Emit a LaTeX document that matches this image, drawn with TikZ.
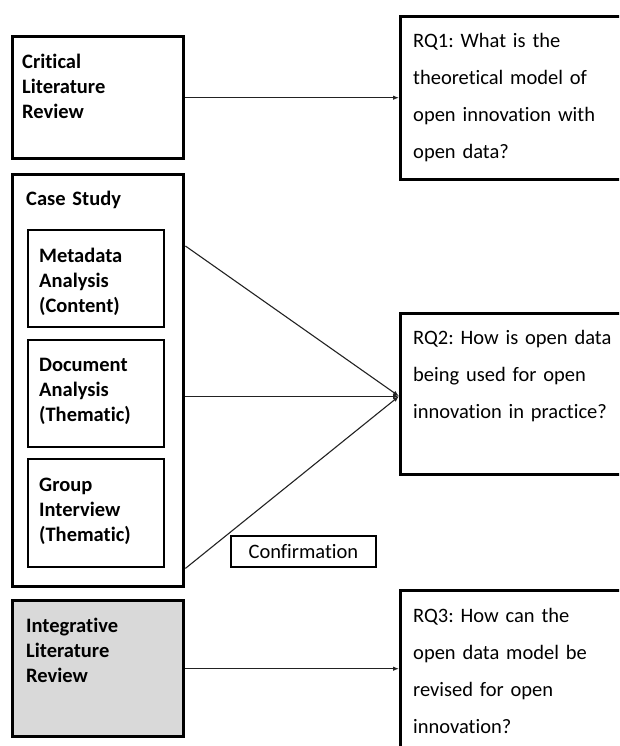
\documentclass[tikz,border=0pt]{standalone}
\usepackage{fontspec}
\setmainfont{Carlito}[RawFeature={-liga;-clig;-calt;-dlig}]
\frenchspacing
\usetikzlibrary{arrows.meta}
\definecolor{boxgray}{HTML}{D9D9D9}
\definecolor{linegray}{HTML}{222222}
\tikzset{
  method/.style={draw=black, line width=3.4pt},
  submethod/.style={draw=black, line width=2.4pt},
  tag/.style={draw=black, line width=1.8pt},
  question/.style={draw=black, line width=3.4pt},
  boldtext/.style={anchor=base west, inner sep=0pt, text width=150pt, align=left,
    font=\fontsize{20.5}{25}\selectfont\bfseries},
  qtext/.style={anchor=base west, inner sep=0pt, text width=220pt, align=left,
    font=\fontsize{20.5}{37}\selectfont},
  link/.style={draw=linegray, line width=1.1pt, -{Latex[length=6pt,width=4.5pt]}}
}
\begin{document}
\begin{tikzpicture}[x=1pt, y=-1pt]
\useasboundingbox (0,0) rectangle (619,746);
\clip (0,0) rectangle (619,746);

% method boxes on the left
\node[method, inner sep=0pt, minimum width=171pt, minimum height=122pt, anchor=north west] (crit) at (11,35) {};
\node[method, inner sep=0pt, minimum width=171pt, minimum height=412pt, anchor=north west] (case) at (11,173) {};
\node[method, fill=boxgray, inner sep=0pt, minimum width=171pt, minimum height=136pt, anchor=north west] (integ) at (11,599) {};

% sub-methods of the case study
\node[submethod, inner sep=0pt, minimum width=136pt, minimum height=97pt, anchor=north west] (meta) at (27,229) {};
\node[submethod, inner sep=0pt, minimum width=136pt, minimum height=107pt, anchor=north west] (doc) at (27,339) {};
\node[submethod, inner sep=0pt, minimum width=136pt, minimum height=108pt, anchor=north west] (group) at (27,458) {};

% research questions on the right
\node[question, inner sep=0pt, minimum width=220.5pt, minimum height=163pt, anchor=north west] (rq1) at (399,15) {};
\node[question, inner sep=0pt, minimum width=220.5pt, minimum height=161pt, anchor=north west] (rq2) at (399,312) {};
\node[question, inner sep=0pt, minimum width=220.5pt, minimum height=175pt, anchor=north west] (rq3) at (399,589) {};

% confirmation label
\node[tag, inner sep=0pt, minimum width=145pt, minimum height=31pt, anchor=north west,
  font=\fontsize{20.5}{25}\selectfont] (conf) at (230,535) {Confirmation};

% texts
\node[boldtext] (critT) at (22,69) {Critical\\Literature\\Review};
\node[boldtext] (caseT) at (26,205) {Case Study};
\node[boldtext] (metaT) at (39,262) {Metadata\\Analysis\\(Content)};
\node[boldtext] (docT) at (39,371) {Document\\Analysis\\(Thematic)};
\node[boldtext] (groupT) at (39,491) {Group\\Interview\\(Thematic)};
\node[boldtext] (integT) at (26,632) {Integrative\\Literature\\Review};

\node[qtext] (rq1T) at (413,48) {RQ1: What is the\\theoretical model of\\open innovation with\\open data?};
\node[qtext] (rq2T) at (413,344) {RQ2: How is open data\\being used for open\\innovation in practice?};
\node[qtext] (rq3T) at (413,622) {RQ3: How can the\\open data model be\\revised for open\\innovation?};

% connectors
\coordinate (caseTop) at ([yshift=-73pt]case.north east);
\coordinate (caseBot) at ([yshift=20pt]case.south east);
\coordinate (rq2in) at ([yshift=-2pt]rq2.west);

\draw[link] (crit.east) -- (crit.east -| rq1.west);
\draw[link] (caseTop) -- (rq2in);
\draw[link] (case.east |- rq2in) -- (rq2in);
\draw[link] (caseBot) -- (rq2in);
\draw[link] (integ.east) -- (integ.east -| rq3.west);
\end{tikzpicture}
\end{document}
